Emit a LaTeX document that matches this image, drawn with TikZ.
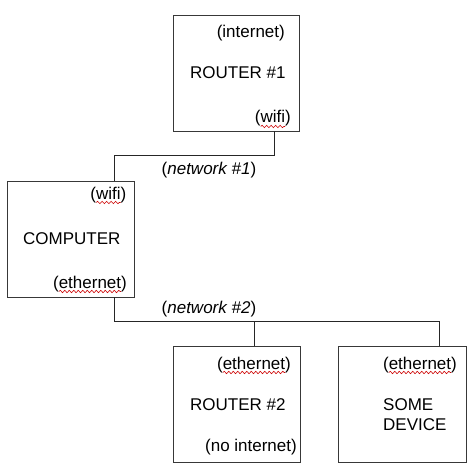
\documentclass[tikz,border=0pt]{standalone}
\usepackage{fontspec}
\setmainfont{Liberation Sans}
\usetikzlibrary{decorations.pathmorphing}
\begin{document}
\begin{tikzpicture}[x=1pt,y=-1pt,
  box/.style={draw=black!78,line width=0.9pt,minimum width=#1,minimum height=116pt,inner sep=0pt},
  lbl/.style={inner sep=0pt,font=\fontsize{17}{20}\selectfont},
  wire/.style={draw=black!85,line width=0.9pt},
  squig/.style={draw=red!80!black,line width=0.6pt,decorate,decoration={snake,amplitude=1.2pt,segment length=4.5pt}}]
\useasboundingbox (0,0) rectangle (473,473);
% boxes
\node[box=126pt] (r1) at (236,73) {};
\node[box=127pt] (comp) at (70.5,239) {};
\node[box=127pt] (r2) at (236.5,404) {};
\node[box=128pt] (dev) at (402,404) {};
% router 1 texts
\node[lbl,anchor=base east] (r1inet) at (285,38) {(internet)};
\node[lbl,anchor=base west] (r1name) at (190,79) {ROUTER \#1};
\node[lbl,anchor=base east] (r1wifi) at (291,123) {(wifi)};
% computer texts
\node[lbl,anchor=base east] (cwifi) at (126.5,199) {(wifi)};
\node[lbl,anchor=base west] (cname) at (23,244) {COMPUTER};
\node[lbl,anchor=base east] (ceth) at (127,288) {(ethernet)};
% router 2 texts
\node[lbl,anchor=base east] (r2eth) at (291,369) {(ethernet)};
\node[lbl,anchor=base west] (r2name) at (190,410) {ROUTER \#2};
\node[lbl,anchor=base east] (r2noi) at (297,451) {(no internet)};
% device texts
\node[lbl,anchor=base east] (deth) at (457,369) {(ethernet)};
\node[lbl,anchor=base west] (dsome) at (383,410) {SOME};
\node[lbl,anchor=base west] (ddev) at (383,430) {DEVICE};
% network labels
\node[lbl,anchor=base west] (net1) at (161.5,175) {(\textit{network \#1})};
\node[lbl,anchor=base west] (net2) at (161.5,313) {(\textit{network \#2})};
% connectors
\coordinate (j1) at (114,155);
\draw[wire] ([xshift=38pt]r1.south) |- (j1) -- ([xshift=43.5pt]comp.north);
\coordinate (j2) at (439,321);
\draw[wire] ([xshift=43.5pt]comp.south) |- (j2) -- ([xshift=37pt]dev.north);
\draw[wire] ([xshift=17.5pt]r2.north) -- ([xshift=17.5pt]r2.north |- j2);
% spell-check squiggles
\foreach \n in {r1wifi,cwifi,ceth,r2eth,deth}{
  \draw[squig] ([xshift=6pt,yshift=-3.5pt]\n.base west) -- ([xshift=-6pt,yshift=-3.5pt]\n.base east);
}
\end{tikzpicture}
\end{document}
